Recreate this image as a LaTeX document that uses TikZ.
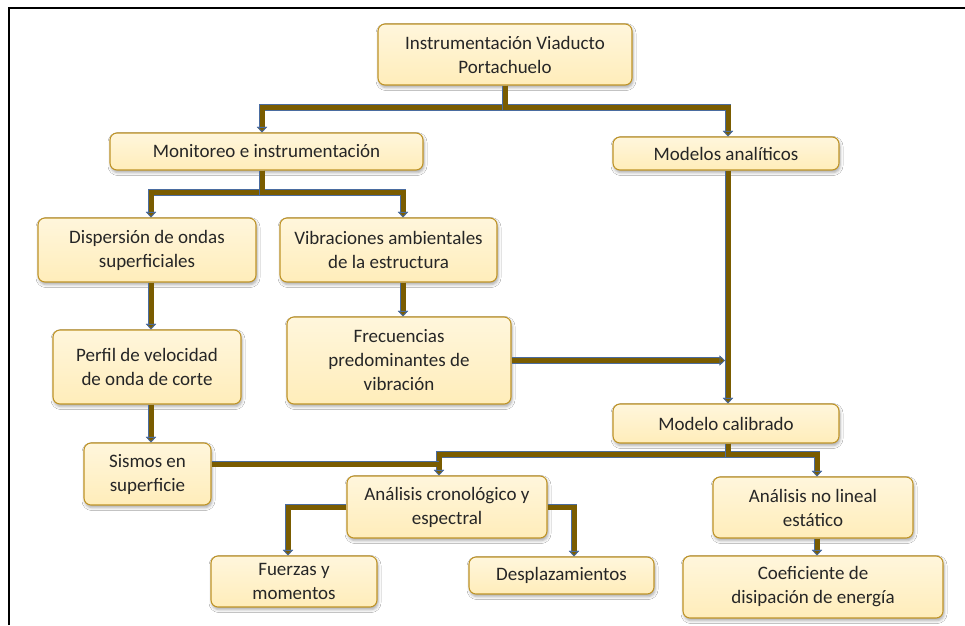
\documentclass[tikz,border=0pt]{standalone}
\usepackage{fontspec}
\setmainfont{Carlito}
\usetikzlibrary{arrows.meta,shadows.blur}
\definecolor{boxedge}{RGB}{191,148,40}
\definecolor{boxtop}{RGB}{255,246,220}
\definecolor{boxbot}{RGB}{255,237,186}
\definecolor{linkbrown}{RGB}{122,92,0}
\definecolor{linkblue}{RGB}{74,108,160}
\definecolor{txt}{RGB}{38,38,38}
\tikzset{
  stepbox/.style={draw=boxedge, line width=1.1pt, rounded corners=7pt,
    top color=boxtop, bottom color=boxbot, inner sep=0pt, align=center,
    text=txt, font=\fontsize{19}{24}\selectfont,
    blur shadow={shadow xshift=1pt, shadow yshift=-2.5pt, shadow blur radius=3pt, shadow opacity=35}},
  bar/.style={line width=5pt, draw=linkbrown, line join=miter,
    preaction={draw=linkblue, line width=6.6pt}},
  link/.style={bar, -{Triangle[width=10pt,length=5.5pt,line width=0.8pt,color=linkblue,fill=linkbrown]}},
}
\begin{document}
\begin{tikzpicture}[x=1pt,y=-1pt]
\useasboundingbox (0,0) rectangle (965,625);
\fill[white] (0,0) rectangle (965,625);
% frame
\draw[line width=2pt] (9,625) -- (9,8) -- (965,8);

% boxes
\node[stepbox, minimum width=254pt, minimum height=61pt] (top) at (505,54.5) {Instrumentación Viaducto\\Portachuelo};
\node[stepbox, minimum width=313pt, minimum height=37pt] (mon) at (266.5,151.5) {Monitoreo e instrumentación};
\node[stepbox, minimum width=226pt, minimum height=33pt] (mod) at (726,153.5) {Modelos analíticos};
\node[stepbox, minimum width=218pt, minimum height=64pt] (dis) at (147,250) {Dispersión de ondas\\superficiales};
\node[stepbox, minimum width=217pt, minimum height=64pt] (vib) at (388.5,250) {Vibraciones ambientales\\de la estructura};
\node[stepbox, minimum width=188pt, minimum height=74pt] (per) at (147,367) {Perfil de velocidad\\de onda de corte};
\node[stepbox, minimum width=224pt, minimum height=87pt] (frec) at (399,360.5) {Frecuencias\\predominantes de\\vibración};
\node[stepbox, minimum width=226pt, minimum height=39pt] (cal) at (726,423.5) {Modelo calibrado};
\node[stepbox, minimum width=127pt, minimum height=62pt] (sis) at (147.5,474) {Sismos en\\superficie};
\node[stepbox, minimum width=200pt, minimum height=62pt] (crono) at (447,507) {Análisis cronológico y\\espectral};
\node[stepbox, minimum width=200pt, minimum height=61pt] (nol) at (813,507.5) {Análisis no lineal\\estático};
\node[stepbox, minimum width=166pt, minimum height=51pt] (fue) at (294,581.5) {Fuerzas y\\momentos};
\node[stepbox, minimum width=185pt, minimum height=37pt] (des) at (561.5,575.5) {Desplazamientos};
\node[stepbox, minimum width=260pt, minimum height=62pt] (coef) at (813,587) {Coeficiente de\\disipación de energía};

% drop points of the branching connectors
\coordinate (cronoin) at ([xshift=-8pt]crono.north);
\coordinate (sisout) at ([yshift=10pt]sis.east);

% connectors
\draw[link] (top.south) -- ++(0,22) -| ([xshift=-4.5pt]mon.north);
\draw[link] (top.south) -- ++(0,22) -| ([xshift=2pt]mod.north);

\draw[link] ([xshift=-4.5pt]mon.south) -- ++(0,22) -| ([xshift=4pt]dis.north);
\draw[link] ([xshift=-4.5pt]mon.south) -- ++(0,22) -| ([xshift=14.5pt]vib.north);

\draw[link] ([xshift=4pt]dis.south) -- ([xshift=4pt]dis.south |- per.north);
\draw[link] ([xshift=14.5pt]vib.south) -- ([xshift=14.5pt]vib.south |- frec.north);
\draw[link] ([xshift=4pt]per.south) -- ([xshift=4pt]per.south |- sis.north);

\draw[link] ([xshift=2pt]mod.south) -- ([xshift=2pt]mod.south |- cal.north);
\draw[link] (frec.east) -- ([xshift=-1pt]frec.east -| mod.south);

\draw[link] ([xshift=2pt]cal.south) -- ++(0,11) -| (cronoin);
\draw[link] ([xshift=2pt]cal.south) -- ++(0,11) -| ([xshift=4pt]nol.north);
\draw[bar] (sisout) -- (sisout -| cronoin);

\draw[link] (crono.west) -| ([xshift=-6pt]fue.north);
\draw[link] (crono.east) -| ([xshift=12.5pt]des.north);
\draw[link] ([xshift=4pt]nol.south) -- ([xshift=4pt]nol.south |- coef.north);
\end{tikzpicture}
\end{document}
